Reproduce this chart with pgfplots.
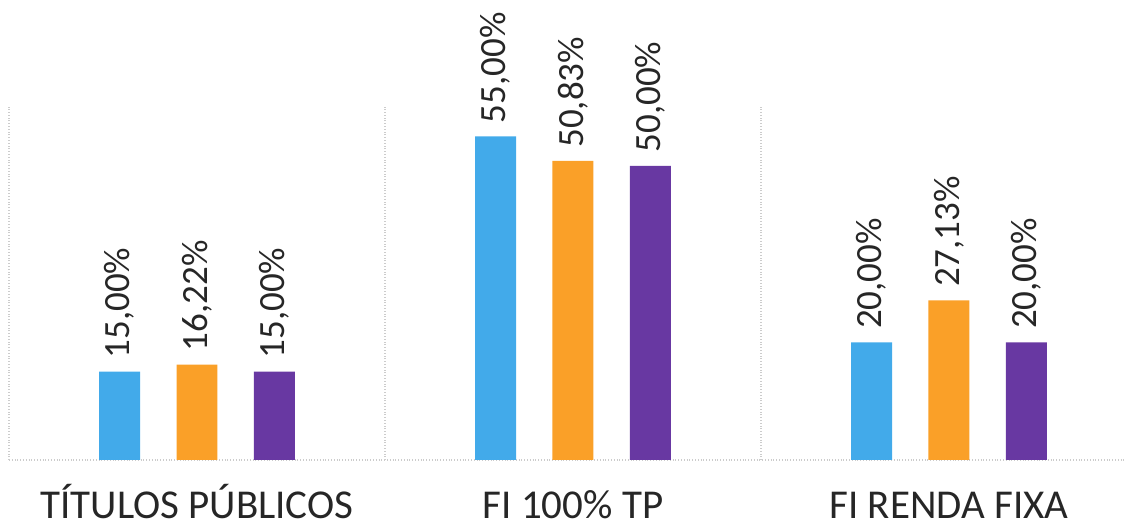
\documentclass[border=0pt]{standalone}
\usepackage{pgfplots}
\pgfplotsset{compat=1.18}
\usepackage{fontspec}
\setmainfont{Carlito}
\definecolor{cblue}{RGB}{66,170,234}
\definecolor{corange}{RGB}{250,160,40}
\definecolor{cpurple}{RGB}{104,56,162}
\begin{document}
\begin{tikzpicture}
\useasboundingbox (-4.5pt,-31.5pt) rectangle (557.5pt,230pt);
\begin{axis}[
  scale only axis,
  width=557.4pt, height=176.5pt,
  xmin=-0.5, xmax=2.465,
  ymin=0, ymax=60,
  axis line style={draw=none},
  tick style={draw=none},
  xtick={0,1,2},
  xticklabels={TÍTULOS PÚBLICOS, FI 100\% TP, FI RENDA FIXA},
  xticklabel style={font=\fontsize{20.5}{24}\selectfont, text=black!85, anchor=base, inner sep=0pt, yshift=-25pt},
  minor xtick={-0.5,0.5,1.5},
  xminorgrids,
  minor grid style={gray!40, densely dotted, line width=0.6pt},
  ytick={0},
  yticklabels={},
  ymajorgrids,
  major grid style={gray!40, densely dotted, line width=0.6pt},
  ybar,
  bar width=0.109,
  nodes near coords={\pgfmathprintnumber[fixed,fixed zerofill,precision=2,use comma,assume math mode=true]{\pgfplotspointmeta}\%},
  nodes near coords style={rotate=90, anchor=west, inner xsep=6.5pt, inner ysep=0pt, font=\fontsize{18.5}{22}\selectfont, text=black!85},
  clip=false,
]
\addplot[fill=cblue, draw=none, bar shift=-0.206] coordinates {(0,15.00) (1,55.00) (2,20.00)};
\addplot[fill=corange, draw=none, bar shift=0] coordinates {(0,16.22) (1,50.83) (2,27.13)};
\addplot[fill=cpurple, draw=none, bar shift=0.206] coordinates {(0,15.00) (1,50.00) (2,20.00)};
\end{axis}
\end{tikzpicture}
\end{document}
